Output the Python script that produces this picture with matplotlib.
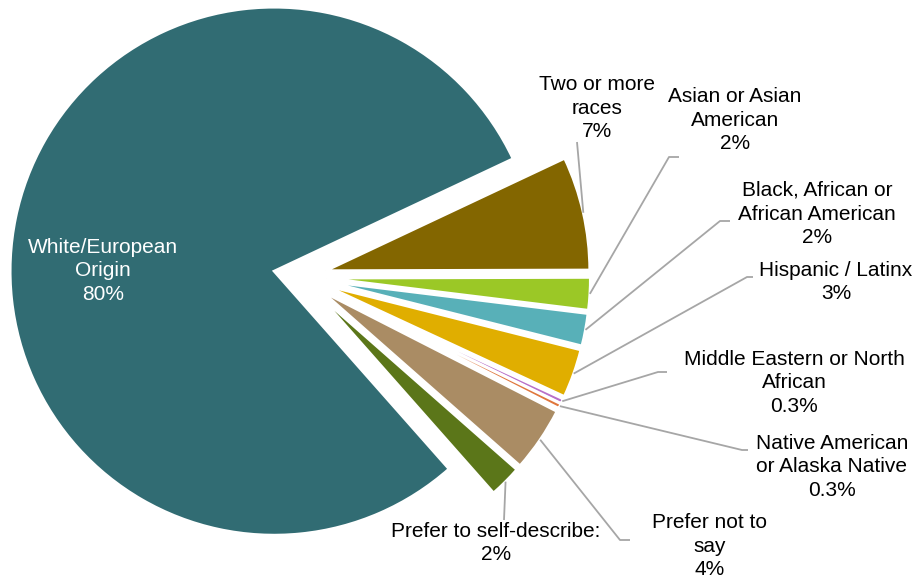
import math

import matplotlib

matplotlib.use("Agg")
import matplotlib.pyplot as plt

W, H = 916, 579

labels = [
    "Two or more\nraces",
    "Asian or Asian\nAmerican",
    "Black, African or\nAfrican American",
    "Hispanic / Latinx",
    "Middle Eastern or North\nAfrican",
    "Native American\nor Alaska Native",
    "Prefer not to\nsay",
    "Prefer to self-describe:",
    "White/European\nOrigin",
]
values = [7, 2, 2, 3, 0.3, 0.3, 4, 2, 80]
pct_text = ["7%", "2%", "2%", "3%", "0.3%", "0.3%", "4%", "2%", "80%"]
colors = ["#836600", "#9BC826", "#58B0B8", "#E0AE00", "#B870C8",
          "#E0763C", "#AA8C64", "#5B7619", "#316C73"]

# label layout in picture pixels (x, y from top): text centre, elbow, line end
label_pos = [(597, 108), (735, 120), (817, 214), (836, 282), (794, 383),
             (832, 467), (710, 546), (496, 543), (103, 271)]
leader = [
    [(577, 142)],
    [(669, 157), (679, 157)],
    [(720, 221), (730, 221)],
    [(747, 277), (753, 277)],
    [(658, 372), (667, 372)],
    [(742, 450), (748, 450)],
    [(620, 540), (630, 540)],
    [(504, 520)],
    None,
]


def px(x, y):
    return x, H - y


fig = plt.figure(figsize=(W / 100, H / 100), dpi=100)
ax = fig.add_axes([0, 0, 1, 1])

radius = 264
# explode is in data units here, so 10% of the radius
wedges, _ = ax.pie(values, colors=colors, startangle=25.2, counterclock=False,
                   radius=radius, center=px(300, 276.5),
                   explode=[0.1 * radius] * len(values),
                   wedgeprops=dict(edgecolor="white", linewidth=2), frame=True)
ax.set_xlim(0, W)
ax.set_ylim(0, H)
ax.set_aspect("equal")
ax.axis("off")

for i, w in enumerate(wedges):
    text = labels[i] + "\n" + pct_text[i]
    tx, ty = px(*label_pos[i])
    color = "white" if leader[i] is None else "black"
    ax.text(tx, ty, text, ha="center", va="center", color=color,
            fontsize=15, family="Liberation Sans", linespacing=1.3)
    if leader[i] is None:
        continue
    mid = math.radians((w.theta1 + w.theta2) / 2)
    cx, cy = w.center
    xs = [cx + w.r * math.cos(mid)]
    ys = [cy + w.r * math.sin(mid)]
    for p in leader[i]:
        x, y = px(*p)
        xs.append(x)
        ys.append(y)
    ax.plot(xs, ys, color="#A6A6A6", lw=1.3, solid_capstyle="butt")

fig.savefig("out.png", dpi=100)
